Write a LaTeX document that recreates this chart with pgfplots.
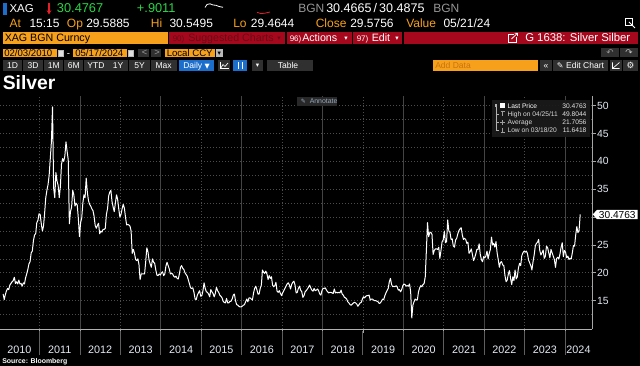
\documentclass[border=0pt]{standalone}
\usepackage{pgfplots}
\pgfplotsset{compat=1.18}
\usepackage{pgfplotstable}
\usepackage{fontspec}
\setmainfont{Liberation Sans}
\newfontfamily\dejavu{DejaVu Sans}
\usetikzlibrary{arrows.meta}
\definecolor{bbor}{RGB}{247,160,28}
\definecolor{bbdimor}{RGB}{200,115,15}
\definecolor{bbgreen}{RGB}{40,215,70}
\definecolor{bbred}{RGB}{165,8,28}
\definecolor{bbarrow}{RGB}{230,30,40}
\definecolor{bbdimred}{RGB}{105,12,22}
\definecolor{bbblue}{RGB}{28,110,205}
\definecolor{bbbtn}{RGB}{48,48,48}
\definecolor{bbgray}{RGB}{150,150,150}
\definecolor{gridc}{RGB}{76,76,76}
\definecolor{gridsolid}{RGB}{68,68,68}
\definecolor{sepc}{RGB}{95,95,95}
\definecolor{lab}{RGB}{228,234,242}
\definecolor{leg}{RGB}{26,26,26}
\definecolor{annobg}{RGB}{40,40,40}
\definecolor{anno}{RGB}{150,170,190}
% Silver (XAG BGN), about three readings per month, 02/2010 - 05/2024
\pgfplotstableread[row sep=\\]{
v\\
% 2010 Feb-Dec
16.2\\ 15.2\\ 16.1\\ 16.8\\ 17.2\\ 17.0\\ 17.8\\ 18.1\\ 18.4\\ 18.6\\ 19.2\\ 18.1\\
18.4\\ 18.0\\ 18.7\\ 18.0\\ 18.1\\ 17.6\\ 18.2\\ 18.0\\ 19.1\\ 19.8\\ 20.6\\ 21.6\\
22.0\\ 23.6\\ 23.9\\ 25.8\\ 26.8\\ 27.0\\ 29.0\\ 29.4\\ 30.6\\
% 2011
30.5\\ 28.8\\ 27.5\\ 28.4\\ 30.8\\ 33.5\\ 34.8\\ 35.8\\ 37.5\\ 40.5\\ 43.5\\ 49.8\\
35.2\\ 33.5\\ 38.0\\ 36.5\\ 35.7\\ 33.5\\ 35.5\\ 39.5\\ 40.5\\ 40.0\\ 41.0\\ 43.5\\
41.8\\ 40.3\\ 28.8\\ 31.0\\ 31.8\\ 34.8\\ 34.0\\ 32.0\\ 32.5\\ 32.2\\ 29.8\\ 26.5\\
% 2012
29.0\\ 29.8\\ 32.5\\ 34.0\\ 33.5\\ 37.0\\ 34.5\\ 33.0\\ 32.3\\ 32.0\\ 31.5\\ 31.2\\
30.2\\ 28.5\\ 28.0\\ 28.5\\ 28.9\\ 27.0\\ 27.5\\ 27.3\\ 27.8\\ 27.8\\ 28.0\\ 30.5\\
31.5\\ 33.8\\ 34.5\\ 34.8\\ 32.8\\ 31.8\\ 31.0\\ 32.5\\ 34.0\\ 33.2\\ 31.5\\ 30.0\\
% 2013
30.5\\ 31.5\\ 32.3\\ 31.6\\ 30.0\\ 28.6\\ 28.7\\ 28.6\\ 28.4\\ 27.5\\ 23.5\\ 24.2\\
23.5\\ 22.4\\ 22.2\\ 22.5\\ 21.5\\ 18.8\\ 19.8\\ 19.8\\ 19.8\\ 19.8\\ 22.0\\ 24.5\\
23.8\\ 22.3\\ 21.6\\ 21.0\\ 22.5\\ 21.9\\ 21.7\\ 20.5\\ 19.6\\ 19.5\\ 19.8\\ 19.6\\
% 2014
20.0\\ 20.2\\ 19.5\\ 19.8\\ 21.2\\ 21.9\\ 21.3\\ 20.7\\ 19.8\\ 19.9\\ 19.8\\ 19.4\\
19.2\\ 19.4\\ 19.0\\ 18.9\\ 19.8\\ 21.0\\ 21.3\\ 20.8\\ 20.6\\ 20.0\\ 19.7\\ 19.4\\
18.7\\ 18.0\\ 17.3\\ 17.2\\ 17.3\\ 16.5\\ 15.3\\ 15.2\\ 16.0\\ 16.4\\ 16.8\\ 15.8\\
% 2015
15.9\\ 16.8\\ 18.2\\ 17.2\\ 16.6\\ 16.5\\ 16.2\\ 15.7\\ 17.0\\ 16.6\\ 16.3\\ 15.7\\
16.3\\ 17.4\\ 16.8\\ 16.5\\ 16.0\\ 15.8\\ 15.5\\ 14.9\\ 14.7\\ 14.6\\ 15.4\\ 14.6\\
14.6\\ 14.9\\ 14.9\\ 15.3\\ 16.0\\ 16.2\\ 15.0\\ 14.3\\ 14.2\\ 14.0\\ 13.9\\ 13.9\\
% 2016
14.0\\ 14.2\\ 14.3\\ 14.8\\ 15.3\\ 14.8\\ 15.5\\ 15.5\\ 15.3\\ 15.1\\ 16.3\\ 17.2\\
17.6\\ 17.0\\ 16.2\\ 16.2\\ 17.2\\ 17.8\\ 20.5\\ 20.1\\ 19.9\\ 20.3\\ 19.8\\ 18.8\\
19.5\\ 19.0\\ 19.3\\ 17.8\\ 17.5\\ 17.7\\ 18.3\\ 16.7\\ 16.5\\ 16.8\\ 16.3\\ 15.9\\
% 2017
16.4\\ 16.8\\ 17.2\\ 17.6\\ 18.0\\ 18.2\\ 17.8\\ 17.1\\ 17.9\\ 18.3\\ 18.5\\ 17.8\\
16.4\\ 16.5\\ 17.2\\ 17.6\\ 16.9\\ 16.6\\ 15.6\\ 15.9\\ 16.6\\ 16.8\\ 17.1\\ 17.4\\
17.8\\ 17.3\\ 16.9\\ 16.7\\ 17.2\\ 16.8\\ 16.9\\ 17.1\\ 16.8\\ 16.2\\ 16.0\\ 16.8\\
% 2018
17.2\\ 17.2\\ 17.3\\ 16.9\\ 16.6\\ 16.4\\ 16.5\\ 16.5\\ 16.4\\ 16.3\\ 17.1\\ 16.4\\
16.5\\ 16.4\\ 16.5\\ 16.4\\ 16.9\\ 16.2\\ 16.0\\ 15.6\\ 15.5\\ 15.3\\ 14.8\\ 14.6\\
14.3\\ 14.2\\ 14.4\\ 14.6\\ 14.7\\ 14.6\\ 14.4\\ 14.0\\ 14.3\\ 14.6\\ 14.7\\ 15.3\\
% 2019
15.7\\ 15.5\\ 15.8\\ 15.9\\ 15.9\\ 16.0\\ 15.1\\ 15.3\\ 15.3\\ 15.1\\ 15.0\\ 15.0\\
14.9\\ 14.8\\ 14.5\\ 14.6\\ 14.9\\ 15.3\\ 15.2\\ 15.9\\ 16.4\\ 16.8\\ 17.2\\ 18.4\\
19.0\\ 17.9\\ 17.5\\ 17.6\\ 17.5\\ 17.7\\ 17.5\\ 16.9\\ 17.0\\ 16.6\\ 17.0\\ 17.7\\
% 2020
18.0\\ 17.9\\ 17.6\\ 17.7\\ 17.6\\ 18.0\\ 16.6\\ 11.9\\ 14.2\\ 14.8\\ 15.3\\ 15.1\\
15.2\\ 16.6\\ 17.3\\ 17.7\\ 17.5\\ 17.9\\ 18.1\\ 19.3\\ 24.0\\ 29.0\\ 26.5\\ 27.2\\
27.3\\ 26.9\\ 23.3\\ 24.0\\ 24.3\\ 24.3\\ 24.2\\ 24.6\\ 22.6\\ 24.0\\ 25.6\\ 25.9\\
% 2021
27.5\\ 25.4\\ 25.6\\ 29.5\\ 27.5\\ 27.3\\ 26.0\\ 26.1\\ 24.8\\ 24.6\\ 25.9\\ 26.2\\
27.0\\ 27.6\\ 27.9\\ 28.1\\ 26.8\\ 26.0\\ 26.2\\ 26.0\\ 25.3\\ 25.5\\ 23.5\\ 23.8\\
24.3\\ 23.3\\ 22.2\\ 22.7\\ 23.4\\ 24.2\\ 24.2\\ 25.2\\ 23.3\\ 22.4\\ 22.0\\ 22.9\\
% 2022
22.7\\ 23.0\\ 23.9\\ 22.5\\ 23.5\\ 24.2\\ 26.4\\ 25.0\\ 25.3\\ 24.6\\ 25.6\\ 23.6\\
22.4\\ 21.0\\ 21.9\\ 22.0\\ 21.4\\ 21.3\\ 19.5\\ 18.4\\ 18.7\\ 19.8\\ 20.4\\ 19.0\\
17.9\\ 19.3\\ 18.6\\ 20.5\\ 18.9\\ 19.3\\ 20.9\\ 21.7\\ 21.3\\ 23.1\\ 23.6\\ 23.9\\
% 2023
23.7\\ 23.9\\ 23.5\\ 22.3\\ 21.8\\ 21.3\\ 20.5\\ 22.0\\ 23.2\\ 24.8\\ 25.3\\ 25.5\\
26.0\\ 24.0\\ 23.2\\ 23.6\\ 24.1\\ 22.6\\ 23.0\\ 24.8\\ 24.5\\ 23.6\\ 22.7\\ 24.2\\
23.6\\ 23.0\\ 22.4\\ 21.0\\ 22.6\\ 22.8\\ 22.5\\ 23.4\\ 24.6\\ 25.4\\ 22.9\\ 24.0\\
% 2024 Jan-May
23.7\\ 22.7\\ 23.0\\ 22.4\\ 22.6\\ 22.5\\ 23.6\\ 24.9\\ 24.8\\ 26.8\\ 28.3\\ 27.2\\
27.6\\ 30.48\\
}\silver

\begin{document}
\begin{tikzpicture}
\begin{scope}[x=0.75pt,y=-0.75pt]
\fill[black] (0,0) rectangle (640,366);
% ---- row 1
\fill[bbblue] (2.7,3.3) rectangle (6.7,15);
\begin{scope}[every node/.style={inner sep=0pt, anchor=base west}]
\node[text=white, font=\fontsize{8.6}{10}\selectfont] at (9.3,12.7) {XAG};
\draw[bbarrow, line width=1.1pt, -{Stealth[length=3.2pt,width=3.6pt]}] (49,3.5) -- (49,14.5);
\node[text=bbgreen, font=\fontsize{9.6}{11}\selectfont] at (56.7,12.7) {30.4767};
\node[text=bbgreen, font=\fontsize{9.6}{11}\selectfont] at (136.7,12.7) {+.9011};
\draw[white, line width=0.6pt] (205,7.5) -- (207,4.5) -- (210,3.8) -- (213,5) -- (216,5.3) -- (219,6.5) -- (223,7.3);
\draw[bbarrow, line width=0.6pt] (257,12.3) -- (261,13.6) -- (265,13.2) -- (270,12.0);
\node[text=bbgray, font=\fontsize{9}{11}\selectfont] at (298,12.7) {BGN};
\node[text=white, font=\fontsize{9.4}{11}\selectfont] at (326,12.7) {30.4665\,/\,30.4875};
\node[text=bbgray, font=\fontsize{9}{11}\selectfont] at (433,12.7) {BGN};
% ---- row 2
\node[text=bbor, font=\fontsize{9}{11}\selectfont] at (9.3,27.7) {At};
\node[text=white, font=\fontsize{9}{11}\selectfont] at (29.3,27.7) {15:15};
\node[text=bbor, font=\fontsize{9}{11}\selectfont] at (66.7,27.7) {Op};
\node[text=white, font=\fontsize{9}{11}\selectfont] at (86,27.7) {29.5885};
\node[text=bbor, font=\fontsize{9}{11}\selectfont] at (150.7,27.7) {Hi};
\node[text=white, font=\fontsize{9}{11}\selectfont] at (169.3,27.7) {30.5495};
\node[text=bbor, font=\fontsize{9}{11}\selectfont] at (233,27.7) {Lo};
\node[text=white, font=\fontsize{9}{11}\selectfont] at (250.7,27.7) {29.4644};
\node[text=bbor, font=\fontsize{9}{11}\selectfont] at (315.5,27.7) {Close};
\node[text=white, font=\fontsize{9}{11}\selectfont] at (350,27.7) {29.5756};
\node[text=bbor, font=\fontsize{9}{11}\selectfont] at (406,27.7) {Value};
\node[text=white, font=\fontsize{9}{11}\selectfont] at (443.3,27.7) {05/21/24};
\end{scope}
\draw[white, line width=0.6pt] (625.5,18.5) rectangle (632,25);
\draw[white, line width=0.6pt] (629,22) -- (635,28);
% ---- row 3
\fill[bbor] (2.7,31.7) rectangle (168.3,44.3);
\fill[bbred] (169.3,31.7) rectangle (637.5,44.3);
\draw[black, line width=0.8pt] (286,31.7) -- (286,44.3) (352.5,31.7) -- (352.5,44.3) (403,31.7) -- (403,44.3);
\begin{scope}[every node/.style={inner sep=0pt, anchor=base west}]
\node[text=black, font=\fontsize{8}{10}\selectfont] at (4.5,41.8) {XAG BGN Curncy};
\node[text=bbdimred, font=\fontsize{6}{7}\selectfont] at (172.5,41.3) {90)};
\node[text=bbdimred, font=\fontsize{8}{10}\selectfont] at (188,41.8) {Suggested Charts};
\node[text=bbdimred, font=\dejavu\fontsize{5}{6}\selectfont] at (277,40.8) {▾};
\node[text=white, font=\fontsize{6}{7}\selectfont] at (289.5,41.3) {96)};
\node[text=white, font=\fontsize{8}{10}\selectfont] at (302,41.8) {Actions};
\node[text=white, font=\dejavu\fontsize{5}{6}\selectfont] at (344,40.8) {▾};
\node[text=white, font=\fontsize{6}{7}\selectfont] at (356.5,41.3) {97)};
\node[text=white, font=\fontsize{8}{10}\selectfont] at (371.5,41.8) {Edit};
\node[text=white, font=\dejavu\fontsize{5}{6}\selectfont] at (395,40.8) {▾};
\node[text=white, font=\fontsize{8.5}{10}\selectfont] at (525,41.8) {G 1638: Silver Silber};
\end{scope}
\draw[white, line width=0.6pt] (514,34.5) -- (508.5,34.5) -- (508.5,42) -- (516,42) -- (516,37);
\draw[white, line width=0.6pt] (511.5,39) -- (517.5,33.2) (514.5,33.2) -- (517.5,33.2) -- (517.5,36.2);
% ---- row 4
\fill[bbor] (2.7,49.3) rectangle (57.3,57.3);
\fill[bbor] (73.3,49.3) rectangle (126.7,57.3);
\fill[bbor] (165,49.3) rectangle (215,57.3);
\fill[gray!55] (58.3,49.8) rectangle (63.5,56.8);
\fill[gray!55] (128,49.8) rectangle (133.5,56.8);
\fill[bbbtn] (138,49.3) rectangle (149,57.3);
\fill[bbbtn] (150.7,49.3) rectangle (161,57.3);
\fill[gray!55] (216,49.3) rectangle (222.7,57.3);
\fill[bbbtn] (601,48) rectangle (619,57);
\fill[bbbtn] (620,48) rectangle (638,57);
\begin{scope}[every node/.style={inner sep=0pt, anchor=base west}]
\node[text=black, font=\fontsize{7.2}{9}\selectfont] at (4,56.2) {02/03/2010};
\node[text=white, font=\fontsize{7.2}{9}\selectfont] at (66.5,56.2) {-};
\node[text=black, font=\fontsize{7.2}{9}\selectfont] at (75,56.2) {05/17/2024};
\node[text=black, font=\fontsize{7.2}{9}\selectfont] at (166.5,56.2) {Local CCY};
\node[text=gray!80, font=\fontsize{7}{9}\selectfont] at (141.5,56) {<};
\node[text=gray!80, font=\fontsize{7}{9}\selectfont] at (154,56) {>};
\node[text=black, font=\dejavu\fontsize{5}{6}\selectfont] at (217.3,55.3) {▾};
\node[text=gray!80, font=\dejavu\fontsize{6.5}{7}\selectfont] at (606,55.8) {↶};
\node[text=gray!45, font=\dejavu\fontsize{6.5}{7}\selectfont] at (625,55.8) {↷};
\end{scope}
\fill[gray!25] (59.3,51.5) rectangle (62.5,56);
\fill[gray!25] (129,51.5) rectangle (132.5,56);
% ---- row 5
\foreach \a/\b in {3.3/21.7,22.7/43.3,44.3/63.3,64/83.3,84.3/107.7,108/128,129/150,150.7/176.7,218/230,251.7/263.3,266.7/313,540/552,553/608,610/622,623/638}
  {\fill[bbbtn] (\a,60) rectangle (\b,70.7);}
\fill[bbblue] (179,60) rectangle (214,70.7);
\fill[bbblue] (233,60) rectangle (247,70.7);
\fill[bbor] (432.7,60) rectangle (538.3,70.7);
\begin{scope}[every node/.style={inner sep=0pt, anchor=base, text=white, font=\fontsize{6.4}{8}\selectfont}]
\node at (12.5,68.3) {1D};
\node at (33,68.3) {3D};
\node at (53.8,68.3) {1M};
\node at (73.7,68.3) {6M};
\node at (96,68.3) {YTD};
\node at (118,68.3) {1Y};
\node at (139.5,68.3) {5Y};
\node at (163.7,68.3) {Max};
\node at (196.5,68.3) {Daily {\dejavu\fontsize{5}{6}\selectfont ▼}};
\node at (288,68.3) {Table};
\node[font=\dejavu\fontsize{5}{6}\selectfont] at (257.5,67.5) {▾};
\node at (546,68.3) {«};
\node at (580.5,68.3) {{\dejavu\fontsize{6}{7}\selectfont ✎} Edit Chart};
\node[font=\dejavu\fontsize{6.5}{8}\selectfont] at (630.5,68.5) {⚙};
\node[text=bbdimor, anchor=base west] at (435,68.3) {Add Data};
\end{scope}
\draw[white, line width=0.5pt] (220.5,68.5) -- (223,64.5) -- (225,66.5) -- (228,63);
\draw[white, line width=0.5pt] (220.5,62) -- (220.5,68.5) -- (228.5,68.5);
\draw[white, line width=0.6pt] (238,62) -- (238,69) (242,62) -- (242,69);
\draw[white, line width=0.5pt] (612.5,68.5) -- (619.5,62.5) (612.5,62.5) -- (612.5,68.5) -- (619.5,68.5);
% ---- title
\node[inner sep=0pt, anchor=base west, text=white, font=\bfseries\fontsize{14.5}{17}\selectfont] at (2.5,90) {Silver};
\end{scope}

\begin{axis}[
  at={(0pt,-246.75pt)}, anchor=south west,
  width=444pt, height=174.75pt, scale only axis,
  xmin=2010.02, xmax=2024.667, ymin=9.92, ymax=51.74,
  axis x line*=bottom, axis y line*=right,
  x axis line style={draw=gray!62, line width=0.7pt},
  y axis line style={draw=gray!70, line width=0.7pt},
  xtick={2011,2013,...,2023}, xticklabels={},
  extra x ticks={2012,2014,...,2024}, extra x tick labels={},
  extra x tick style={grid=major, major grid style={draw=gridsolid, solid, line width=0.6pt}},
  ytick={15,20,25,35,40,45,50}, minor ytick={12.5,17.5,...,47.5},
  extra y ticks={30}, extra y tick labels={},
  extra y tick style={grid=major},
  xmajorgrids, ymajorgrids, yminorgrids,
  grid style={draw=gridc, line width=0.55pt, dash pattern=on 0.75pt off 1.5pt},
  tick align=outside, major tick length=2.7pt, minor tick length=0pt,
  tick style={draw=gray!70, line width=0.6pt},
  /pgf/number format/assume math mode=true,
  yticklabel style={font=\fontsize{7.8}{9}\selectfont, text=lab, inner sep=1pt},
]
\addplot[white, line width=0.75pt, line join=round] table[x expr=2010+(\coordindex+3.5)/36, y=v] {\silver};
\end{axis}

\begin{scope}[x=0.75pt,y=-0.75pt]
% bottom separators and year labels
\foreach \k in {1,...,14} {\draw[sepc, line width=0.75pt] ({-0.82+\k*40.42},331.2) -- ({-0.82+\k*40.42},355);}
\foreach \yr [count=\i from 0] in {2010,...,2023}
  {\node[inner sep=0pt, text=lab, font=\fontsize{8.1}{10}\selectfont] at ({-0.82+(\i+0.5)*40.42},350) {\yr};}
\node[inner sep=0pt, text=lab, font=\fontsize{8.1}{10}\selectfont] at (578.5,350) {2024};
\node[inner sep=0pt, anchor=base west, text=white, font=\bfseries\fontsize{5.2}{6}\selectfont] at (2,363.5) {Source: Bloomberg};
% annotate button
\fill[annobg] (296.7,96.7) rectangle (336.7,105.7);
\node[inner sep=0pt, anchor=base west, text=anno, font=\dejavu\fontsize{4.5}{5}\selectfont] at (300.5,103.8) {✎};
\node[inner sep=0pt, anchor=base west, text=anno, font=\fontsize{5.2}{6}\selectfont] at (309.5,103.8) {Annotate};
% legend box
\fill[leg, opacity=0.93] (491.7,100) rectangle (590,136.7);
\fill[gray!60] (494.5,104.3) rectangle (497,107);
\draw[gray!60, line width=0.4pt] (495.8,107) -- (495.8,130.3) (495.8,114.3) -- (499,114.3) (495.8,122.7) -- (499,122.7) (495.8,130.3) -- (499,130.3);
\fill[white] (500.3,103.5) rectangle (505,108.4);
\draw[gray!75, line width=0.5pt] (500.5,111.5) -- (504.5,111.5) (502.5,111.5) -- (502.5,116.5);
\draw[gray!75, line width=0.5pt] (500.2,122.7) -- (504.8,122.7) (502.5,120.4) -- (502.5,125);
\draw[gray!75, line width=0.5pt] (502.5,128) -- (502.5,132.5) (500.5,132.5) -- (504.5,132.5);
\begin{scope}[every node/.style={inner sep=0pt, font=\fontsize{5}{6}\selectfont}]
\node[anchor=base west, text=white] at (507.3,108.2) {Last Price};
\node[anchor=base west, text=gray!30] at (507.3,116.5) {High on 04/25/11};
\node[anchor=base west, text=gray!30] at (507.3,124.9) {Average};
\node[anchor=base west, text=gray!30] at (507.3,132.5) {Low on 03/18/20};
\node[anchor=base east, text=gray!20] at (586.7,108.2) {30.4763};
\node[anchor=base east, text=gray!20] at (586.7,116.5) {49.8044};
\node[anchor=base east, text=gray!20] at (586.7,124.9) {21.7056};
\node[anchor=base east, text=gray!20] at (586.7,132.5) {11.6418};
\end{scope}
% last price tag
\fill[white] (592.8,214.4) -- (597,209.8) -- (637.6,209.8) -- (637.6,219.2) -- (597,219.2) -- cycle;
\node[inner sep=0pt, text=black, font=\fontsize{7.6}{9}\selectfont] at (617.3,214.6) {30.4763};
\pgfresetboundingbox
\path[use as bounding box] (0,0) rectangle (640,366);
\end{scope}
\end{tikzpicture}
\end{document}
